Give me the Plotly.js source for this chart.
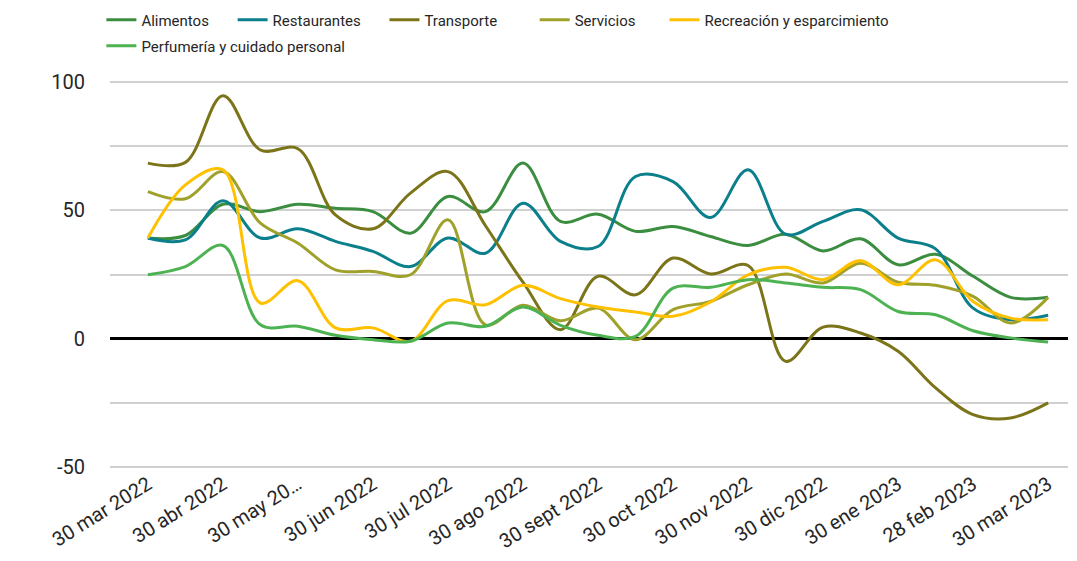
<!DOCTYPE html>
<html>
<head>
<meta charset="utf-8">
<script src="https://cdn.plot.ly/plotly-3.0.1.min.js"></script>
<style>
html,body{margin:0;padding:0;background:#fff;}
#chart{width:1077px;height:561px;}
</style>
</head>
<body>
<div id="chart"></div>
<script>
// Tick labels (every second period is labelled)
const tickLabels = ["30 mar 2022","30 abr 2022","30 may 20…","30 jun 2022","30 jul 2022","30 ago 2022","30 sept 2022","30 oct 2022","30 nov 2022","30 dic 2022","30 ene 2023","28 feb 2023","30 mar 2023"];

// Series values (25 periods)
const alimentos     = [39.2,40.2,52.4,49.5,52.4,50.8,49.5,41.1,55.4,49.5,68.4,45.7,48.5,41.8,43.7,39.8,36.3,40.7,34.2,38.9,28.8,32.9,24.3,16.1,16.1];
const restaurantes  = [39.2,38.5,53.7,39.2,42.8,37.9,34.0,28.1,39.2,33.3,52.8,37.9,35.9,63.2,61.2,47.2,65.8,40.7,45.7,50.2,39.2,35.0,11.9,7.4,9.1];
const transporte    = [68.4,68.7,94.7,73.5,74.0,48.2,42.8,56.7,65.1,44.0,22.0,3.5,24.3,17.1,31.4,25.2,28.5,-8.8,4.5,2.2,-4.9,-19.2,-29.6,-30.9,-25.0];
const servicios     = [57.3,54.5,65.1,45.0,37.2,26.8,26.2,24.9,46.3,5.4,13.0,7.0,11.9,-0.4,11.3,14.5,21.0,25.2,21.7,29.4,22.0,20.8,16.5,6.1,16.1];
const recreacion    = [39.2,59.9,65.8,13.9,22.6,4.2,4.2,-1.0,14.8,13.2,20.8,15.6,12.3,10.4,8.7,14.3,24.9,27.8,23.0,30.4,21.0,30.7,14.5,8.0,7.4];
const perfumeria    = [24.9,28.1,36.3,5.4,4.8,1.3,-0.4,-1.0,6.1,4.8,12.3,5.2,1.3,0.9,19.7,20.0,23.0,21.7,20.0,19.1,10.6,9.3,3.1,0.3,-1.3];

const seriesNames = ["Alimentos","Restaurantes","Transporte","Servicios","Recreación y esparcimiento","Perfumería y cuidado personal"];
const seriesData  = [alimentos,restaurantes,transporte,servicios,recreacion,perfumeria];
const seriesColors = ["#3b8d3f","#0b7f8c","#7b7419","#a0a12b","#ffc000","#4db251"];

// legend placement for each entry (x: paper, y: container)
const legendIds = ["legend","legend2","legend3","legend4","legend5","legend6"];
const legendPos = [[-0.009,0.9938],[0.128,0.9938],[0.2865,0.9938],[0.4433,0.9938],[0.5788,0.9938],[-0.009,0.9474]];

const periods = alimentos.map((_, i) => i);
const tickPos = tickLabels.map((_, i) => i * 2);

const traces = seriesNames.map((name, s) => ({
  x: periods,
  y: seriesData[s],
  name: name,
  type: 'scatter',
  mode: 'lines',
  legend: legendIds[s],
  line: {color: seriesColors[s], width: 3, shape: 'spline', smoothing: 1},
  hoverinfo: 'skip'
}));

const layout = {
  width: 1077, height: 561,
  paper_bgcolor: '#fff', plot_bgcolor: '#fff',
  margin: {l: 110, r: 9, t: 81, b: 93},
  font: {family: 'Roboto, sans-serif', color: '#262626'},
  showlegend: true,
  xaxis: {
    range: [-1.01, 24.53], automargin: false,
    tickmode: 'array', tickvals: tickPos, ticktext: tickLabels,
    tickangle: -32, tickfont: {size: 20, color: '#262626'},
    showgrid: false, zeroline: false, showline: false, ticks: ''
  },
  yaxis: {
    range: [-50.4, 100.4], automargin: false,
    tickmode: 'array',
    tickvals: [-50,-25,0,25,50,75,100],
    ticktext: ['-50','','0','','50','','100'],
    tickfont: {size: 20, color: '#262626'},
    showgrid: true, gridcolor: '#d0d0d0', gridwidth: 2,
    zeroline: true, zerolinecolor: '#000', zerolinewidth: 2.5,
    showline: false, ticks: '', ticklabelstandoff: 24
  }
};

legendIds.forEach((id, i) => {
  layout[id] = {
    orientation: 'h', x: legendPos[i][0], xanchor: 'left',
    y: legendPos[i][1], yanchor: 'top', yref: 'container',
    font: {size: 15, color: '#262626'}, itemwidth: 30,
    bgcolor: 'rgba(0,0,0,0)'
  };
});

Plotly.newPlot('chart', traces, layout, {displayModeBar: false, staticPlot: true});
</script>
</body>
</html>
